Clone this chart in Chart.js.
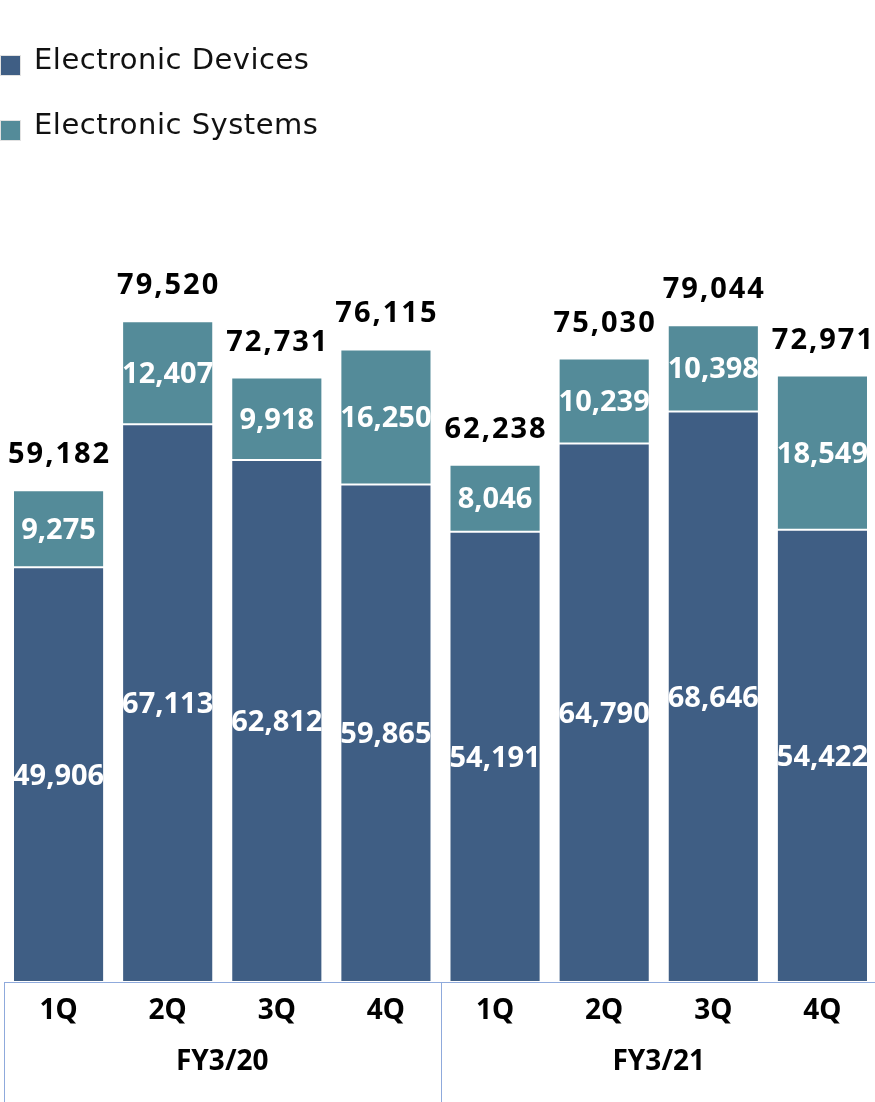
<!DOCTYPE html>
<html>
<head>
<meta charset="utf-8">
<script src="https://cdn.jsdelivr.net/npm/chart.js@4"></script>
<style>
  html, body { margin: 0; padding: 0; background: #fff; overflow: hidden; }
  #wrap { position: relative; width: 875px; height: 1102px; overflow: hidden; }
  #chart { position: absolute; left: 0; top: 0; }
  .legend-item { position: absolute; left: 0; height: 34px; }
  .legend-box { position: absolute; left: 0; width: 19px; height: 19px; border: 1px solid #e2e2e2; }
  .legend-text { position: absolute; left: 34px; top: 0; white-space: nowrap;
    font-family: "DejaVu Sans"; font-size: 29px; line-height: 34px; letter-spacing: 0.5px; color: #111; }
</style>
</head>
<body>
<div id="wrap">
  <canvas id="chart" width="877" height="1102"></canvas>
  <div id="legend"></div>
</div>
<script>
// Quarterly sales by segment
const quarters = ['1Q', '2Q', '3Q', '4Q', '1Q', '2Q', '3Q', '4Q'];
const fiscalYears = ['FY3/20', 'FY3/21'];
const seriesNames = ['Electronic Devices', 'Electronic Systems'];
const seriesColors = ['#3F5E84', '#548B99'];
const devices = [49906, 67113, 62812, 59865, 54191, 64790, 68646, 54422];
const systems = [9275, 12407, 9918, 16250, 8046, 10239, 10398, 18549];
const totals = [59182, 79520, 72731, 76115, 62238, 75030, 79044, 72971];

const lineColor = '#8FAADC';
const boldFont = '"Noto Sans"';

// HTML legend (stacked vertically like the original)
const legendEl = document.getElementById('legend');
seriesNames.forEach((name, i) => {
    const item = document.createElement('div');
    item.className = 'legend-item';
    item.style.top = (42 + i * 65) + 'px';
    const box = document.createElement('div');
    box.className = 'legend-box';
    box.style.top = '13px';
    box.style.background = seriesColors[i];
    const txt = document.createElement('div');
    txt.className = 'legend-text';
    txt.textContent = name;
    item.appendChild(box);
    item.appendChild(txt);
    legendEl.appendChild(item);
});

// Values inside segments + totals on top
const barLabels = {
    id: 'barLabels',
    afterDatasetsDraw(chart) {
        const ctx = chart.ctx;
        ctx.save();
        ctx.textAlign = 'center';
        ctx.textBaseline = 'alphabetic';
        ctx.font = 'bold 29px ' + boldFont;
        ctx.fillStyle = '#ffffff';
        chart.data.datasets.forEach((ds, di) => {
            chart.getDatasetMeta(di).data.forEach((bar, i) => {
                const p = bar.getProps(['x', 'y', 'base', 'width'], true);
                ctx.save();
                ctx.beginPath();
                ctx.rect(p.x - p.width / 2, p.y, p.width, p.base - p.y);
                ctx.clip();
                ctx.fillText(ds.data[i].toLocaleString('en-US'), p.x, (p.y + p.base) / 2 + 10);
                ctx.restore();
            });
        });
        // totals
        ctx.fillStyle = '#000000';
        ctx.letterSpacing = '2px';
        chart.getDatasetMeta(1).data.forEach((bar, i) => {
            ctx.fillText(totals[i].toLocaleString('en-US'), bar.x + 1, bar.y - 27);
        });
        ctx.restore();
    }
};

// Vertical separators between fiscal years
const yearLines = {
    id: 'yearLines',
    afterDraw(chart) {
        const xs = chart.scales.x;
        const ctx = chart.ctx;
        const marks = [xs.left];
        const perYear = quarters.length / fiscalYears.length;
        for (let k = 1; k < fiscalYears.length; k++) {
            const i = k * perYear;
            marks.push((xs.getPixelForValue(i - 1) + xs.getPixelForValue(i)) / 2);
        }
        ctx.save();
        ctx.strokeStyle = lineColor;
        ctx.lineWidth = 1;
        marks.forEach(x => {
            const px = Math.round(x) + 0.5;
            ctx.beginPath();
            ctx.moveTo(px, xs.top);
            ctx.lineTo(px, chart.height);
            ctx.stroke();
        });
        ctx.restore();
    }
};

const tickFont = { family: boldFont, weight: 'bold', size: 28 };

const ctx = document.getElementById('chart').getContext('2d');
new Chart(ctx, {
    type: 'bar',
    data: {
        labels: quarters,
        datasets: [{
            label: seriesNames[0],
            data: devices,
            backgroundColor: seriesColors[0],
            borderColor: '#ffffff',
            borderWidth: 1,
            borderSkipped: false
        },
        {
            label: seriesNames[1],
            data: systems,
            backgroundColor: seriesColors[1],
            borderColor: '#ffffff',
            borderWidth: 1,
            borderSkipped: false
        }]
    },
    options: {
        responsive: false,
        animation: false,
        barPercentage: 0.835,
        categoryPercentage: 1,
        layout: { padding: { left: 4, top: 151, right: 0, bottom: 0 } },
        plugins: {
            legend: { display: false },
            tooltip: { enabled: false }
        },
        scales: {
            x: {
                stacked: true,
                offset: true,
                weight: 0,
                grid: { display: false, drawTicks: false },
                border: { display: true, color: lineColor, width: 1 },
                ticks: { color: '#000', font: tickFont, padding: 12, maxRotation: 0, autoSkip: false },
                afterFit: s => { s.height = 58; }
            },
            x2: {
                type: 'category',
                labels: fiscalYears,
                position: 'bottom',
                offset: true,
                weight: 1,
                grid: { display: false, drawTicks: false },
                border: { display: false },
                ticks: { color: '#000', font: tickFont, padding: 5, maxRotation: 0 },
                afterFit: s => { s.height = 62; }
            },
            y: {
                stacked: true,
                display: false,
                min: 0,
                max: 100000
            }
        }
    },
    plugins: [barLabels, yearLines]
});
</script>
</body>
</html>
